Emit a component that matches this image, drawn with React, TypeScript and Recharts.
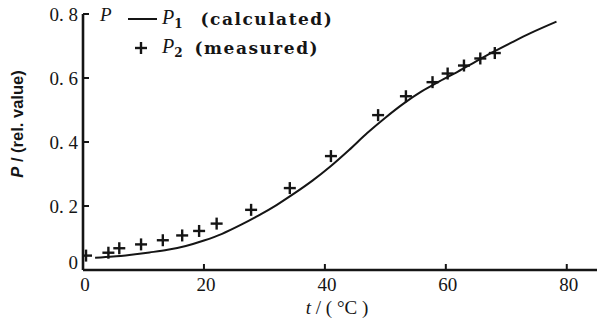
import React from 'react';
import { ComposedChart, Line, Scatter, XAxis, YAxis, Legend } from 'recharts';

// calculated curve P1
const tCalc = [2, 5, 8, 11, 14, 17, 20, 23, 26, 29, 32, 35, 38, 41, 44, 47, 50, 53, 56, 59, 62, 65, 68, 71, 74, 78.3];
const pCalc = [0.038, 0.042, 0.048, 0.055, 0.063, 0.075, 0.092, 0.113, 0.14, 0.17, 0.203, 0.24, 0.28, 0.325, 0.375, 0.428, 0.476, 0.52, 0.558, 0.59, 0.62, 0.652, 0.683, 0.712, 0.74, 0.776];

// measured points P2
const tMeas = [0.5, 4.2, 6.0, 9.6, 13.2, 16.4, 19.2, 22.1, 27.8, 34.2, 41.0, 48.8, 53.4, 57.8, 60.3, 63.0, 65.7, 68.1];
const pMeas = [0.045, 0.054, 0.068, 0.08, 0.093, 0.108, 0.122, 0.145, 0.188, 0.256, 0.356, 0.484, 0.543, 0.587, 0.614, 0.639, 0.661, 0.678];

const xTicks = [0, 20, 40, 60, 80];
const yTicks = [0, 0.2, 0.4, 0.6, 0.8];

const calcData = tCalc.map((t, i) => ({ t, P: pCalc[i] }));
const measData = tMeas.map((t, i) => ({ t, P: pMeas[i] }));

const INK = '#151515';
const SERIF = '"Liberation Serif", "DejaVu Serif", serif';

const Plus = (props: any) => {
    const { cx, cy } = props;
    return (
        <g stroke={INK} strokeWidth={2.4}>
            <line x1={cx - 6} y1={cy} x2={cx + 6} y2={cy} />
            <line x1={cx} y1={cy - 6} x2={cx} y2={cy + 6} />
        </g>
    );
};

const XTick = (props: any) => {
    const { x, y, payload } = props;
    return (
        <g>
            <line x1={x} y1={y} x2={x} y2={y - 6} stroke={INK} strokeWidth={2} />
            <text x={x + 2} y={y + 21} textAnchor="middle" fontFamily={SERIF} fontSize={19} fill={INK}>
                {payload.value}
            </text>
        </g>
    );
};

const YTick = (props: any) => {
    const { x, y, payload } = props;
    const v = payload.value;
    const label = v === 0 ? '0' : v.toFixed(1).replace('.', '. ');
    return (
        <g>
            <line x1={x} y1={y} x2={x + 6} y2={y} stroke={INK} strokeWidth={2} />
            <text x={x - 5} y={v === 0 ? y - 1 : y + 7} textAnchor="end" fontFamily={SERIF} fontSize={19} fill={INK} style={{ whiteSpace: 'pre' }}>
                {label}
            </text>
        </g>
    );
};

const YLabel = (props: any) => {
    const { viewBox } = props;
    const { x, y, width } = viewBox;
    const cy = y + 110;
    return (
        <g>
            <text
                x={x + 17}
                y={cy}
                transform={`rotate(-90 ${x + 17} ${cy})`}
                textAnchor="middle"
                dominantBaseline="central"
                fontFamily='"Liberation Sans", Arial, sans-serif'
                fontWeight="bold"
                fontSize={16.5}
                fill={INK}
            >
                <tspan fontStyle="italic">P</tspan> / (rel. value)
            </text>
            <text x={x + width + 17} y={y + 7} fontFamily={SERIF} fontStyle="italic" fontSize={19} fill={INK}>
                P
            </text>
        </g>
    );
};

const XLabel = (props: any) => {
    const { viewBox } = props;
    const { x, y, width } = viewBox;
    return (
        <text x={x + width / 2 - 3} y={y + 44} textAnchor="middle" fontFamily={SERIF} fontSize={19} fill={INK} style={{ whiteSpace: 'pre' }}>
            <tspan fontStyle="italic">t</tspan> / ( °C )
        </text>
    );
};

const rowStyle: React.CSSProperties = { display: 'flex', alignItems: 'center', height: 29 };
const nameStyle: React.CSSProperties = { fontFamily: SERIF, fontSize: 20, fontStyle: 'italic', fontWeight: 'normal' };
const descStyle: React.CSSProperties = { marginLeft: 18, letterSpacing: 1.5 };

const LegendBox = () => (
    <div style={{ fontFamily: '"DejaVu Serif", serif', fontSize: 17, fontWeight: 'bold', color: INK }}>
        <div style={rowStyle}>
            <svg width={34} height={10}>
                <line x1={4} y1={5} x2={33} y2={5} stroke={INK} strokeWidth={2} />
            </svg>
            <span style={{ marginLeft: 4 }}>
                <span style={nameStyle}>P</span>
                <sub style={{ fontSize: 12 }}>1</sub>
            </span>
            <span style={descStyle}>(calculated)</span>
        </div>
        <div style={rowStyle}>
            <svg width={34} height={14}>
                <line x1={11} y1={7} x2={23} y2={7} stroke={INK} strokeWidth={2.4} />
                <line x1={17} y1={1} x2={17} y2={13} stroke={INK} strokeWidth={2.4} />
            </svg>
            <span style={{ marginLeft: 4 }}>
                <span style={nameStyle}>P</span>
                <sub style={{ fontSize: 12 }}>2</sub>
            </span>
            <span style={{ ...descStyle, marginLeft: 12 }}>(measured)</span>
        </div>
    </div>
);

export default function App() {
    return (
        <div style={{ position: 'absolute', left: 0, top: 0, width: 597, height: 320, background: '#fff' }}>
            <ComposedChart width={597} height={320} margin={{ top: 14, right: 0, bottom: 0, left: 0 }}>
                <XAxis
                    type="number"
                    dataKey="t"
                    domain={[0, 85]}
                    ticks={xTicks}
                    allowDataOverflow
                    tickSize={0}
                    tickMargin={0}
                    tickLine={false}
                    tick={<XTick />}
                    axisLine={{ stroke: INK, strokeWidth: 2.6 }}
                    height={50}
                    label={<XLabel />}
                />
                <YAxis
                    type="number"
                    dataKey="P"
                    domain={[0, 0.8]}
                    ticks={yTicks}
                    allowDataOverflow
                    tickSize={0}
                    tickMargin={0}
                    tickLine={false}
                    tick={<YTick />}
                    axisLine={{ stroke: INK, strokeWidth: 2.6 }}
                    width={83}
                    label={<YLabel />}
                />
                <Legend
                    layout="vertical"
                    align="center"
                    verticalAlign="middle"
                    content={<LegendBox />}
                    wrapperStyle={{ top: 4, left: 124, width: 280 }}
                />
                <Line
                    data={calcData}
                    dataKey="P"
                    type="monotone"
                    stroke={INK}
                    strokeWidth={2}
                    dot={false}
                    isAnimationActive={false}
                />
                <Scatter data={measData} dataKey="P" shape={<Plus />} isAnimationActive={false} />
            </ComposedChart>
        </div>
    );
}
